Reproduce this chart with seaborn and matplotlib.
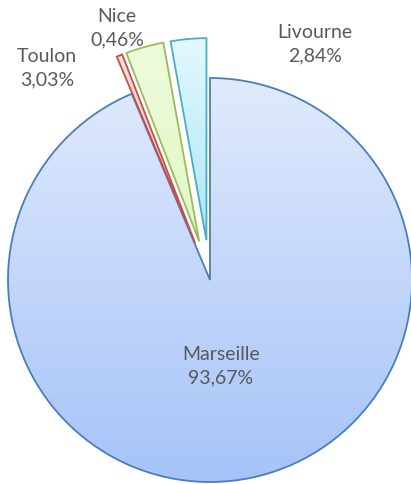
import numpy as np
import matplotlib
matplotlib.use("Agg")
import matplotlib.pyplot as plt
from matplotlib.colors import LinearSegmentedColormap
import seaborn as sns

# slice data (clockwise from 12 o'clock)
ports = ["Marseille", "Nice", "Toulon", "Livourne"]
shares = [93.67, 0.46, 3.03, 2.84]
label_ports = ["Marseille", "Toulon", "Nice", "Livourne"]
label_shares = ["93,67%", "3,03%", "0,46%", "2,84%"]

# styling (explode is in pixels here since axes are pixel-sized)
explode = [0, 40, 40, 40]
edge_colors = ["#4a7ebb", "#c0504d", "#9bbb59", "#4bacc6"]
grad_top = ["#e0eafc", "#fde0e0", "#eefbdc", "#e3f8fd"]
grad_bottom = ["#a6c3f8", "#f6c4c4", "#e2f7c4", "#a9e8f8"]
label_pos = [(221, 366), (47, 68), (117, 28), (315, 44)]

sns.set_theme(style="white")
plt.rcParams["font.family"] = ["Lato", "DejaVu Sans"]

W, H = 411, 484
fig = plt.figure(figsize=(W / 100, H / 100), dpi=100)
ax = fig.add_axes([0, 0, 1, 1])

wedges, _ = ax.pie(shares, explode=explode, startangle=90, counterclock=False,
                   center=(210, H - 280), radius=202, frame=True,
                   wedgeprops=dict(linewidth=1.3))

grad = np.linspace(0, 1, 256).reshape(-1, 1)
for w, ec, c0, c1 in zip(wedges, edge_colors, grad_top, grad_bottom):
    w.set_facecolor("none")
    w.set_edgecolor(ec)
    w.set_zorder(3)
    cmap = LinearSegmentedColormap.from_list("g", [c0, c1])
    bb = w.get_path().get_extents()
    im = ax.imshow(grad, cmap=cmap, aspect="auto", origin="upper",
                   extent=(bb.x0, bb.x1, bb.y0, bb.y1), zorder=2)
    im.set_clip_path(w)

ax.set_xlim(0, W)
ax.set_ylim(0, H)
ax.set_aspect("equal")
ax.axis("off")

for name, pct, (x, y) in zip(label_ports, label_shares, label_pos):
    ax.text(x, H - y, f"{name}\n{pct}", ha="center", va="center",
            fontsize=14, color="#595959", linespacing=1.45, zorder=5)

fig.savefig("out.png", dpi=100)
